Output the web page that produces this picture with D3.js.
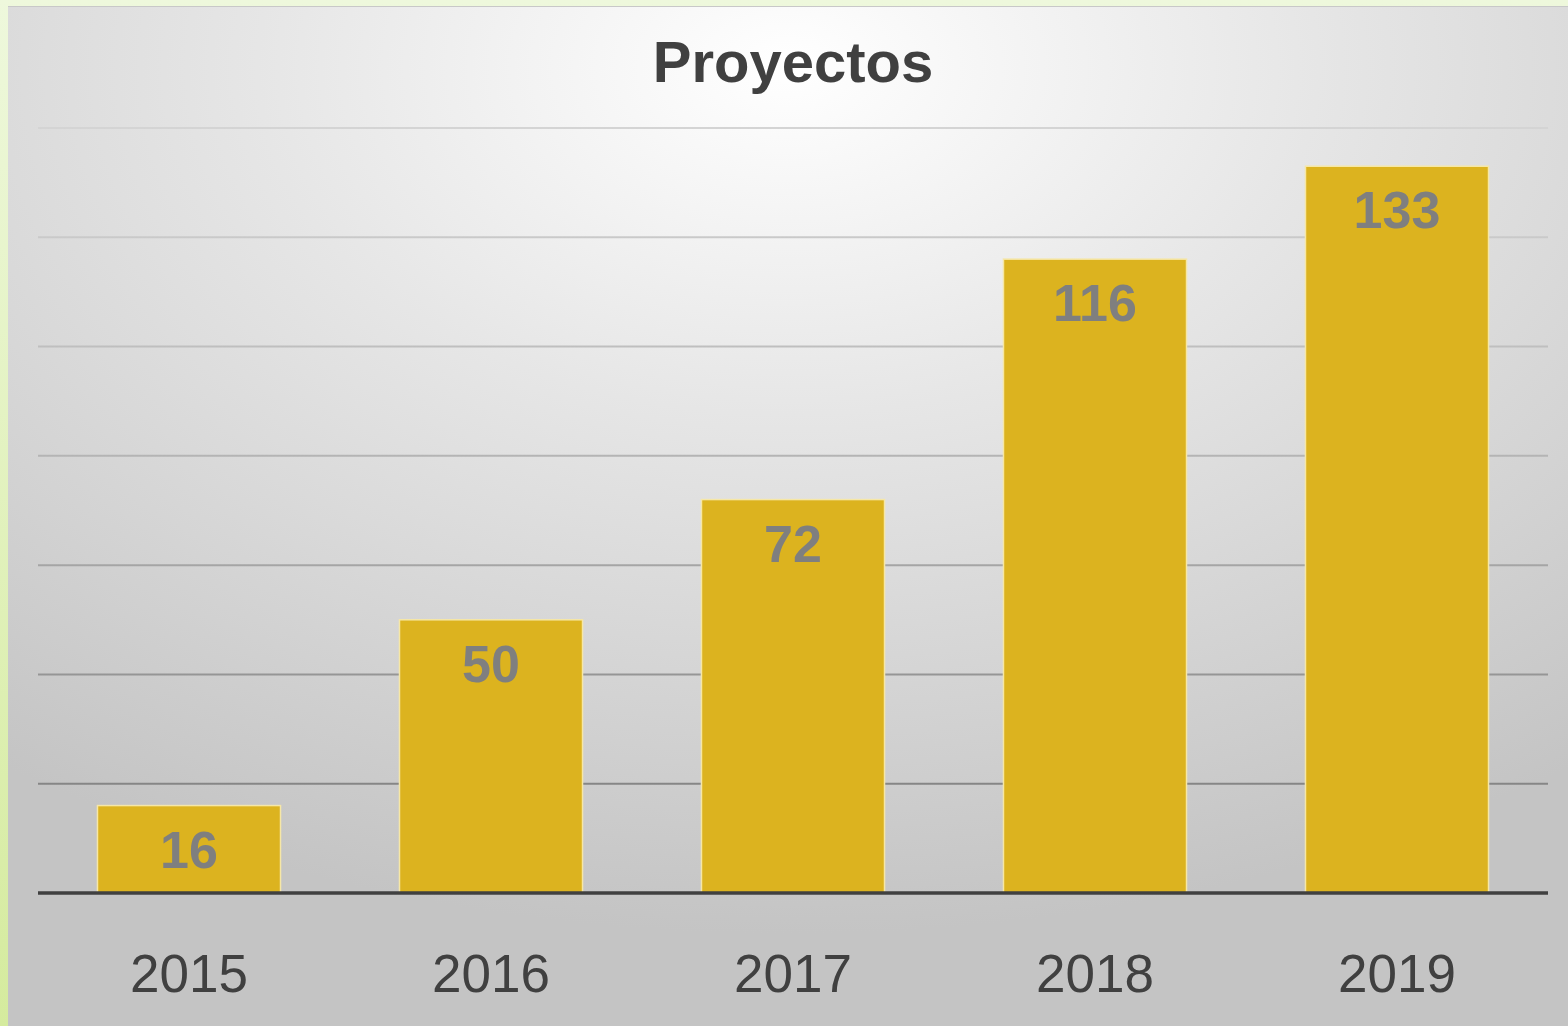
<!DOCTYPE html>
<html><head><meta charset="utf-8">
<script src="https://cdn.jsdelivr.net/npm/d3@7"></script>
<style>html,body{margin:0;padding:0;overflow:hidden;background:#fff}</style>
</head><body>
<script>
const title = "Proyectos";
const years = ["2015","2016","2017","2018","2019"];
const values = [16,50,72,116,133];
const yTicks = [20,40,60,80,100,120,140];

const W = 1568, H = 1026;
const svg = d3.select("body").append("svg").attr("width", W).attr("height", H);
const defs = svg.append("defs");

const gGreen = defs.append("linearGradient").attr("id","green").attr("x1",0).attr("y1",0).attr("x2",0).attr("y2",1);
gGreen.append("stop").attr("offset","0%").attr("stop-color","#eef8dc");
gGreen.append("stop").attr("offset","100%").attr("stop-color","#d5eb9e");

const bg = defs.append("radialGradient").attr("id","bg").attr("cx","50%").attr("cy","6%").attr("r","85%").attr("fx","50%").attr("fy","6%");
bg.append("stop").attr("offset","0%").attr("stop-color","#ffffff");
bg.append("stop").attr("offset","40%").attr("stop-color","#e6e6e6");
bg.append("stop").attr("offset","100%").attr("stop-color","#c4c4c4");

const gGrid = defs.append("linearGradient").attr("id","grid").attr("gradientUnits","userSpaceOnUse")
  .attr("x1",0).attr("y1",128).attr("x2",0).attr("y2",790);
gGrid.append("stop").attr("offset","0%").attr("stop-color","#d4d4d4");
gGrid.append("stop").attr("offset","50%").attr("stop-color","#b4b4b4");
gGrid.append("stop").attr("offset","100%").attr("stop-color","#858585");

// frame
svg.append("rect").attr("x",0).attr("y",0).attr("width",W).attr("height",H).attr("fill","url(#green)");
svg.append("rect").attr("x",8).attr("y",6).attr("width",W-8).attr("height",H-6).attr("fill","url(#bg)");
svg.append("line").attr("x1",8).attr("x2",W).attr("y1",6.5).attr("y2",6.5).attr("stroke","#c8c8c8").attr("stroke-width",1);

const left = 38, right = 1548, y0 = 893, yTop = 128;
const x = d3.scaleBand().domain(years).range([left, right]).paddingInner(0.394).paddingOuter(0.197);
const y = d3.scaleLinear().domain([0,140]).range([y0, yTop]);

// gridlines
svg.append("g").selectAll("line").data(yTicks).join("line")
  .attr("x1",left).attr("x2",right)
  .attr("y1",d=>y(d)).attr("y2",d=>y(d))
  .attr("stroke","url(#grid)").attr("stroke-width",2);

// bars
svg.append("g").selectAll("rect").data(values).join("rect")
  .attr("x",(d,i)=>x(years[i]))
  .attr("y",d=>y(d))
  .attr("width",x.bandwidth())
  .attr("height",d=>y0-y(d))
  .attr("fill","#dcb31f")
  .attr("stroke","#f6e7a6").attr("stroke-width",1.5);

// baseline axis
const axis = svg.append("g").attr("transform",`translate(0,${y0})`)
  .call(d3.axisBottom(x).tickSize(0).tickPadding(0));
axis.select(".domain").attr("stroke","#404040").attr("stroke-width",3.5)
  .attr("d",`M${left},0H${right}`);
axis.selectAll(".tick text")
  .attr("y",99).attr("dy",null)
  .attr("font-family","'Liberation Sans', Arial, sans-serif")
  .attr("font-size",53).attr("fill","#404040");

// value labels
svg.append("g").selectAll("text").data(values).join("text")
  .attr("x",(d,i)=>x(years[i])+x.bandwidth()/2)
  .attr("y",d=>y(d)+62)
  .attr("text-anchor","middle")
  .attr("font-family","'Liberation Sans', Arial, sans-serif")
  .attr("font-weight","bold").attr("font-size",52).attr("fill","#7f7f7f")
  .text(d=>d);

// title
svg.append("text").attr("x",793).attr("y",82).attr("text-anchor","middle")
  .attr("font-family","'Liberation Sans', Arial, sans-serif")
  .attr("font-weight","bold").attr("font-size",58).attr("fill","#404040")
  .text(title);
</script>
</body></html>
